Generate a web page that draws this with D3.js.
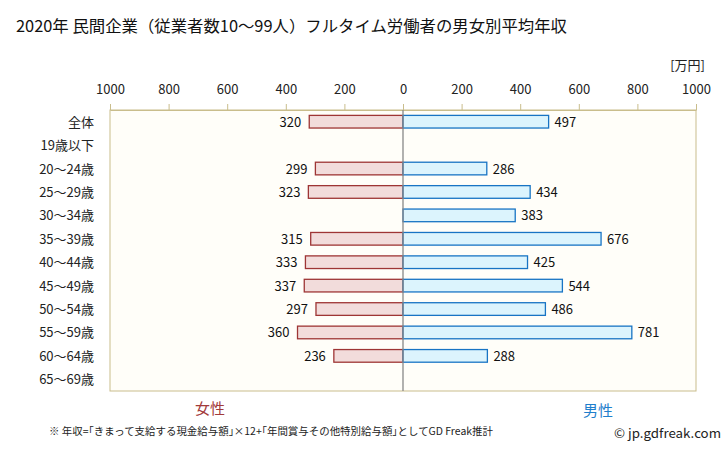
<!DOCTYPE html>
<html><head><meta charset="utf-8">
<script src="https://cdn.jsdelivr.net/npm/d3@7"></script>
<style>body{margin:0;background:#fff}text{font-family:"Noto Sans CJK JP","DejaVu Sans",sans-serif}</style>
</head><body><svg id="c" width="728" height="451"></svg>
<script>
const categories = ["全体","19歳以下","20～24歳","25～29歳","30～34歳","35～39歳","40～44歳","45～49歳","50～54歳","55～59歳","60～64歳","65～69歳"];
const female = [320,null,299,323,null,315,333,337,297,360,236,null];
const male   = [497,null,286,434,383,676,425,544,486,781,288,null];
const tickValues = [-1000,-800,-600,-400,-200,0,200,400,600,800,1000];

const svg = d3.select("#c");
const L=110, R=696, T=110, B=391;
const x = d3.scaleLinear().domain([-1000,1000]).range([L,R]);
const y = d3.scaleBand().domain(categories).range([T,B]).paddingInner(0.46).paddingOuter(0.23);

svg.append("text").attr("x",16).attr("y",32).attr("font-size",16).attr("fill","#111")
  .attr("textLength",551).attr("lengthAdjust","spacingAndGlyphs")
  .text("2020年 民間企業（従業者数10～99人）フルタイム労働者の男女別平均年収");

svg.append("text").attr("x",705).attr("y",70).attr("text-anchor","end").attr("font-size",13).attr("fill","#222").text("[万円]");

svg.append("rect").attr("x",L).attr("y",T).attr("width",R-L).attr("height",B-T)
  .attr("fill","#fffef9").attr("stroke","#c9bd8c").attr("stroke-width",1);

const axis = d3.axisTop(x).tickValues(tickValues).tickFormat(d=>Math.abs(d)).tickSize(6).tickSizeOuter(0);
const ag = svg.append("g").attr("transform",`translate(0,${T})`).call(axis);
ag.select(".domain").attr("stroke","#c9bd8c");
ag.selectAll(".tick line").attr("stroke","#c9bd8c");
ag.selectAll(".tick text").attr("font-size",13).attr("fill","#222").attr("y",-16)
  .style("font-family","'Noto Sans CJK JP',sans-serif");

svg.append("g").selectAll("text").data(categories).join("text")
  .attr("x",94).attr("y",d=>y(d)+y.bandwidth()/2+5).attr("text-anchor","end")
  .attr("font-size",13).attr("fill","#222").text(d=>d);

const fd = categories.map((c,i)=>({c,v:female[i]})).filter(d=>d.v!=null);
const md = categories.map((c,i)=>({c,v:male[i]})).filter(d=>d.v!=null);

svg.append("g").selectAll("rect").data(fd).join("rect")
  .attr("x",d=>x(-d.v)).attr("y",d=>y(d.c)).attr("width",d=>x(0)-x(-d.v)).attr("height",y.bandwidth())
  .attr("fill","#f2dcdb").attr("stroke","#9e3535").attr("stroke-width",1.3);
svg.append("g").selectAll("rect").data(md).join("rect")
  .attr("x",x(0)).attr("y",d=>y(d.c)).attr("width",d=>x(d.v)-x(0)).attr("height",y.bandwidth())
  .attr("fill","#dcf4fd").attr("stroke","#1874c4").attr("stroke-width",1.3);

svg.append("line").attr("x1",x(0)).attr("x2",x(0)).attr("y1",T).attr("y2",B).attr("stroke","#888").attr("stroke-width",1.3);

svg.append("g").selectAll("text").data(fd).join("text")
  .attr("x",d=>x(-d.v)-8).attr("y",d=>y(d.c)+y.bandwidth()/2+5).attr("text-anchor","end")
  .attr("font-size",13).attr("fill","#111").text(d=>d.v);
svg.append("g").selectAll("text").data(md).join("text")
  .attr("x",d=>x(d.v)+6).attr("y",d=>y(d.c)+y.bandwidth()/2+5)
  .attr("font-size",13).attr("fill","#111").text(d=>d.v);

svg.append("text").attr("x",210).attr("y",414).attr("text-anchor","middle").attr("font-size",15).attr("fill","#a23a3a").text("女性");
svg.append("text").attr("x",598).attr("y",416).attr("text-anchor","middle").attr("font-size",15).attr("fill","#1f7fcc").text("男性");

svg.append("text").attr("x",49).attr("y",435).attr("font-size",10).attr("fill","#222")
  .attr("textLength",444).attr("lengthAdjust","spacingAndGlyphs")
  .text("※ 年収=｢きまって支給する現金給与額｣×12+｢年間賞与その他特別給与額｣としてGD Freak推計");
svg.append("text").attr("x",614).attr("y",438).attr("font-size",13).attr("fill","#222")
  .attr("textLength",107).attr("lengthAdjust","spacingAndGlyphs").text("© jp.gdfreak.com");
</script></body></html>
